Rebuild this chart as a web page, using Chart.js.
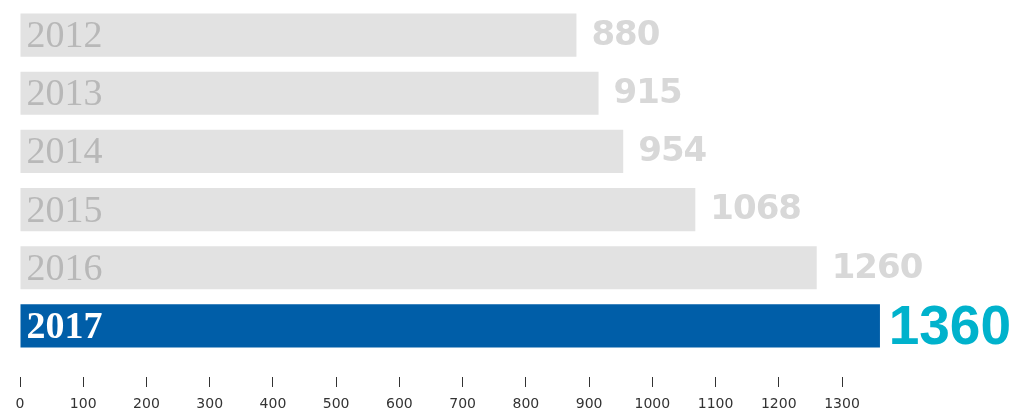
<!DOCTYPE html>
<html>
<head>
<meta charset="utf-8">
<script src="https://cdn.jsdelivr.net/npm/chart.js@4/dist/chart.umd.min.js"></script>
<style>
  html, body { margin: 0; padding: 0; background: #fff; }
  #wrap { width: 1014px; height: 411px; }
</style>
</head>
<body>
<div id="wrap"><canvas id="myChart"></canvas></div>
<script>
  let years = ['2012', '2013', '2014', '2015', '2016', '2017']
  let visits = [880, 915, 954, 1068, 1260, 1360]
  let tickMax = 1300

  let barColors = ['#e2e2e2', '#e2e2e2', '#e2e2e2', '#e2e2e2', '#e2e2e2', '#005ea8']
  let yearColors = ['#b8b8b8', '#b8b8b8', '#b8b8b8', '#b8b8b8', '#b8b8b8', '#ffffff']
  let valueColors = ['#d8d8d8', '#d8d8d8', '#d8d8d8', '#d8d8d8', '#d8d8d8', '#00b2cc']

  // year inside the bar, value right of the bar
  const barLabels = {
    id: 'barLabels',
    afterDatasetsDraw(chart) {
      const ctx = chart.ctx
      const meta = chart.getDatasetMeta(0)
      meta.data.forEach((bar, i) => {
        const last = i === meta.data.length - 1
        ctx.save()
        ctx.textBaseline = 'middle'
        ctx.textAlign = 'left'
        ctx.fillStyle = yearColors[i]
        ctx.font = (last ? 'bold ' : '') + '38px "Liberation Serif"'
        ctx.fillText(years[i], bar.base + 6, bar.y + 2)

        ctx.fillStyle = valueColors[i]
        if (last) {
          ctx.font = 'bold 55px "Liberation Sans"'
          const w = ctx.measureText(visits[i]).width
          const x = Math.min(bar.x + 16, chart.width - w - 3)
          ctx.fillText(visits[i], x, bar.y + 3)
        } else {
          ctx.font = 'bold 34px "DejaVu Sans"'
          ctx.letterSpacing = '-1px'
          ctx.fillText(visits[i], bar.x + 15, bar.y + 1)
        }
        ctx.restore()
      })
    }
  }

  let ctx = document.getElementById('myChart')

  new Chart(ctx, {
    type: 'bar',
    data: {
      labels: years,
      datasets: [
        {
          data: visits,
          backgroundColor: barColors,
          borderWidth: 0,
          categoryPercentage: 1,
          barPercentage: 0.741
        }
      ]
    },
    options: {
      indexAxis: 'y',
      responsive: true,
      maintainAspectRatio: false,
      animation: false,
      layout: { padding: { left: 20, right: 0, top: 6, bottom: -10 } },
      plugins: {
        legend: { display: false },
        tooltip: { enabled: false }
      },
      scales: {
        y: { display: false },
        x: {
          min: 0,
          max: 1572,
          border: { display: false },
          grid: {
            drawOnChartArea: false,
            drawTicks: true,
            tickLength: 32,
            tickColor: '#333333',
            tickWidth: 1,
            tickBorderDash: [0, 22, 10, 200]
          },
          ticks: {
            stepSize: 100,
            padding: 10,
            color: '#333333',
            maxRotation: 0,
            autoSkip: false,
            font: { family: '"DejaVu Sans"', size: 14, lineHeight: 1 },
            callback: (v) => String(v)
          },
          afterBuildTicks(scale) {
            scale.ticks = scale.ticks.filter(t => t.value <= tickMax)
          }
        }
      }
    },
    plugins: [barLabels]
  })
</script>
</body>
</html>
